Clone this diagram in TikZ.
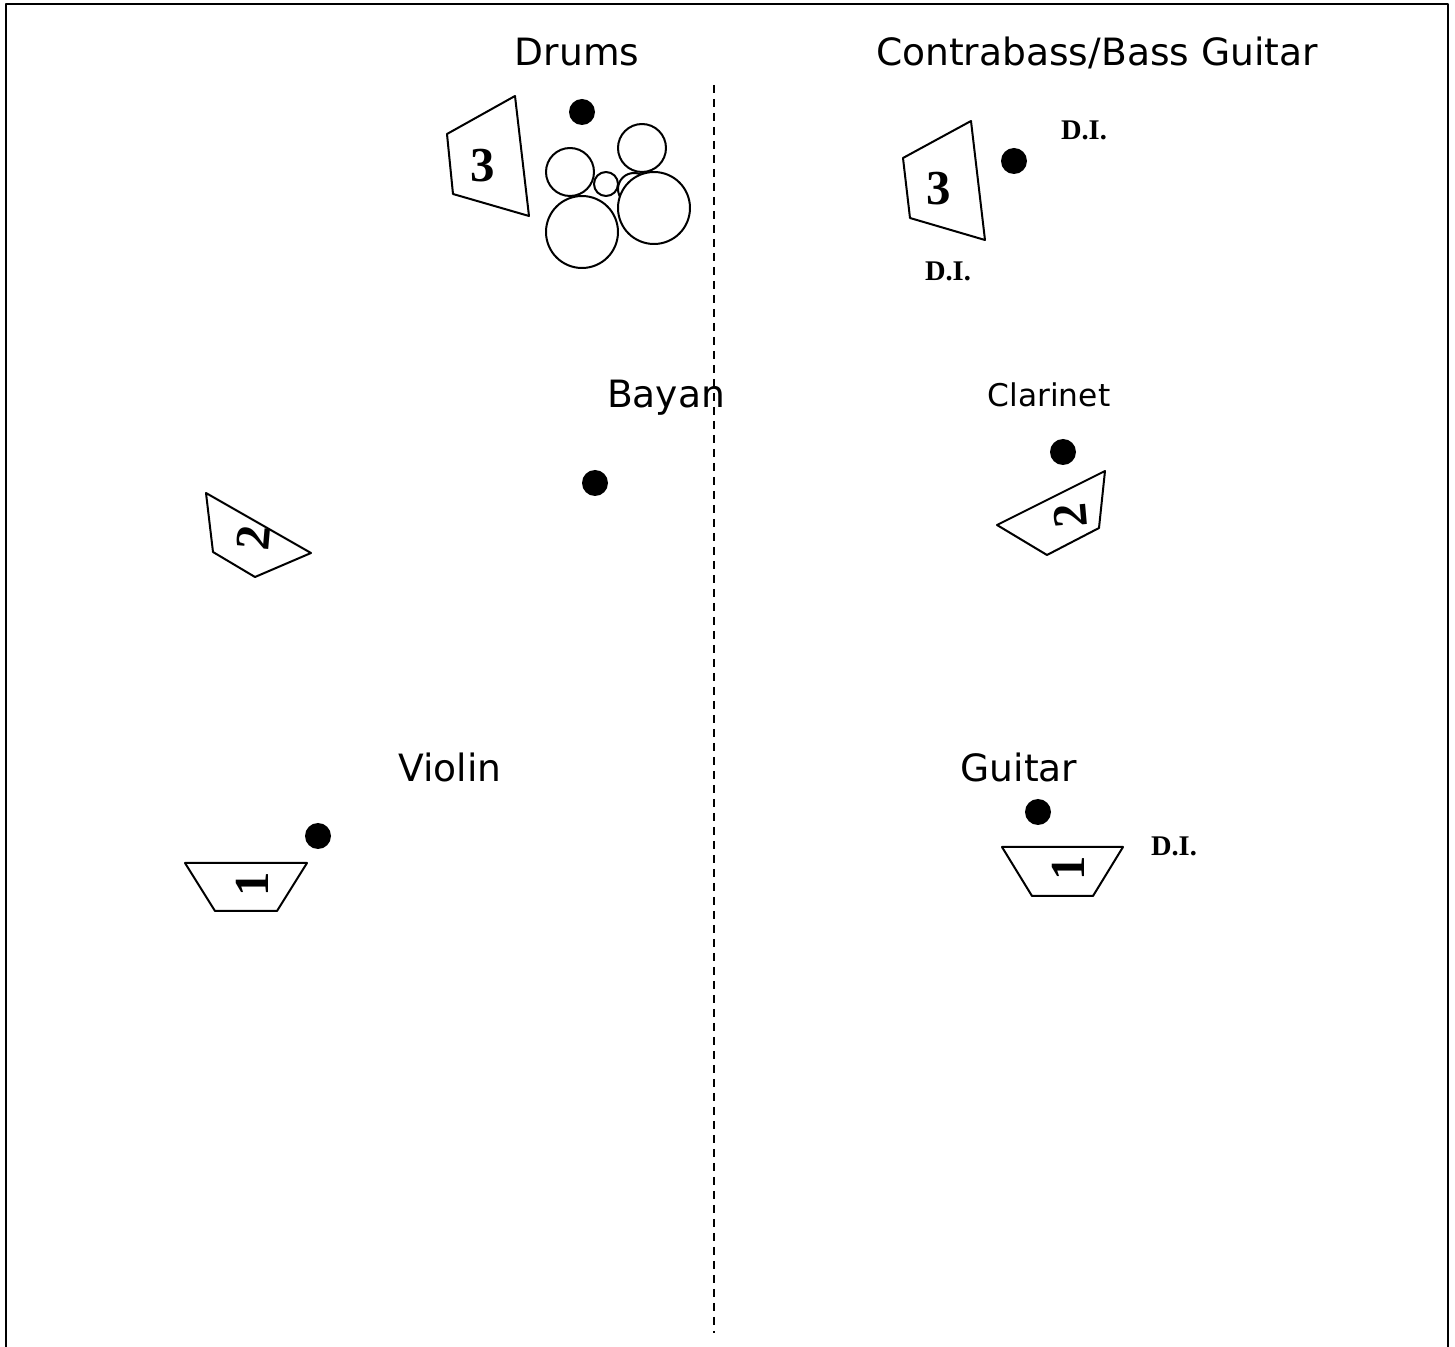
\documentclass[tikz,border=0pt]{standalone}
\usepackage{fontspec}
\setmainfont{DejaVu Sans}
\newfontfamily\numfont{Liberation Serif}
\begin{document}
\begin{tikzpicture}[x=0.1mm, y=-0.1mm, line join=round, line cap=round,
  lbl/.style={font=\fontsize{10.7}{12}\selectfont, inner sep=0pt, anchor=base},
  smalllbl/.style={font=\fontsize{8.9}{10}\selectfont, inner sep=0pt, anchor=base},
  wedge/.style={line width=0.2mm},
  wedgenum/.style={font=\numfont\bfseries\fontsize{13.9}{14}\selectfont, inner sep=0pt},
  di/.style={font=\numfont\bfseries\fontsize{8.1}{9}\selectfont, inner sep=0pt},
  mic/.style={circle, fill=black, minimum size=2.6mm, inner sep=0pt},
  drum/.style={circle, draw, fill=white, line width=0.2mm, inner sep=0pt}]
  \useasboundingbox (0,0) rectangle (1455,1347);
  % frame, open at the bottom
  \draw[line width=0.25mm, line cap=butt] (6,1347) -- (6,4) -- (1448,4) -- (1448,1347);
  % centre line of the stage
  \coordinate (stageTop) at (714,85);
  \coordinate (stageBot) at (714,1333);
  \draw[line width=0.15mm, line cap=butt, dash pattern=on 0.8mm off 0.6mm] (stageTop) -- (stageBot);

  % labels
  \node[lbl] (drumsLbl) at (577,66) {Drums};
  \node[lbl] (bassLbl) at (1097,66) {Contrabass/Bass Guitar};
  \node[lbl] (bayanLbl) at (666,408) {Bayan};
  \node[smalllbl] (clarLbl) at (1049,407) {Clarinet};
  \node[lbl] (violinLbl) at (450,782) {Violin};
  \node[lbl] (guitarLbl) at (1019,782) {Guitar};

  % microphones
  \foreach \nm/\px/\py in {drumsMic/582/112, bassMic/1014/161, bayanMic/595/483,
    clarMic/1063/452, violinMic/318/836, guitarMic/1038/812}
    \node[mic] (\nm) at (\px,\py) {};

  % drum kit
  \node[drum, minimum size=3.2mm] (tomB) at (634,189) {};
  \node[drum, minimum size=4.8mm] (tomL) at (570,172) {};
  \node[drum, minimum size=2.4mm] (snareS) at (606,184) {};
  \node[drum, minimum size=4.8mm] (tomR) at (642,148) {};
  \node[drum, minimum size=7.2mm] (floorR) at (654,208) {};
  \node[drum, minimum size=7.2mm] (kick) at (582,232) {};

  % monitor wedges
  \draw[wedge] (447,134) -- (515,96) -- (529,216) -- (453,194) -- cycle;
  \node[wedgenum] (drumsWedge) at (483,166) {3};
  \draw[wedge] (903,158) -- (971,121) -- (985,240) -- (910,218) -- cycle;
  \node[wedgenum] (bassWedge) at (939,189) {3};
  \draw[wedge] (206,493) -- (311,553) -- (255,577) -- (213,552) -- cycle;
  \node[wedgenum, rotate=85] (bayanWedge) at (253,538) {2};
  \draw[wedge] (997,525) -- (1105,471) -- (1099,528) -- (1047,555) -- cycle;
  \node[wedgenum, rotate=95] (clarWedge) at (1070,516) {2};
  \draw[wedge] (185,863) -- (307,863) -- (277,911) -- (215,911) -- cycle;
  \node[wedgenum, rotate=90] (violinWedge) at (252,884) {1};
  \draw[wedge] (1002,847) -- (1123,847) -- (1093,896) -- (1032,896) -- cycle;
  \node[wedgenum, rotate=90] (guitarWedge) at (1068,868) {1};

  % direct inputs
  \node[di] (bassDiA) at (1084,130) {D.I.};
  \node[di] (bassDiB) at (948,271) {D.I.};
  \node[di] (guitarDi) at (1174,846) {D.I.};
\end{tikzpicture}
\end{document}
